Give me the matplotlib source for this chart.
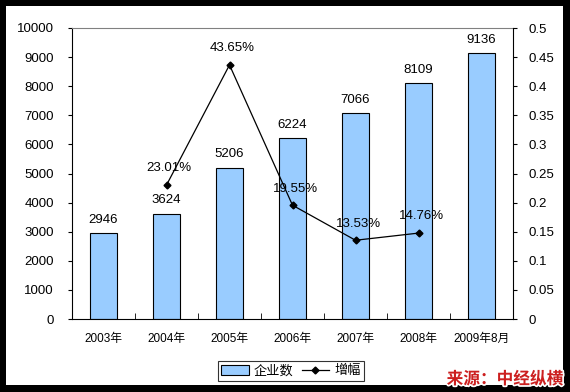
import matplotlib
matplotlib.use("Agg")
import matplotlib.pyplot as plt
import matplotlib.patheffects as pe
from matplotlib.lines import Line2D
from matplotlib.patches import Patch

categories = ["2003年", "2004年", "2005年", "2006年", "2007年", "2008年", "2009年8月"]
companies = [2946, 3624, 5206, 6224, 7066, 8109, 9136]
growth_cats = [1, 2, 3, 4, 5]
growth = [0.2301, 0.4365, 0.1955, 0.1353, 0.1476]
growth_labels = ["23.01%", "43.65%", "19.55%", "13.53%", "14.76%"]

fam = ["Liberation Sans", "Noto Sans CJK SC", "DejaVu Sans"]
plt.rcParams["font.family"] = fam

W, H = 570, 392
fig = plt.figure(figsize=(W / 100, H / 100), dpi=100)
fig.patch.set_facecolor("black")
# white inner panel
fig.add_artist(plt.Rectangle((6 / W, 7 / H), (563 - 6) / W, (385 - 6) / H,
                             transform=fig.transFigure, facecolor="white", edgecolor="none", zorder=0))

ax = fig.add_axes([72 / W, (H - 319) / H, (513 - 72) / W, (319 - 28) / H])
ax.set_facecolor("white")
x = list(range(len(categories)))
ax.bar(x, companies, width=0.42, color="#99CCFF", edgecolor="black", linewidth=0.8, zorder=2)
ax.set_xlim(-0.5, len(categories) - 0.5)
ax.set_ylim(0, 10000)
ax.set_yticks(range(0, 10001, 1000))
ax.tick_params(axis="y", direction="out", length=3, labelsize=9.5, pad=10)
ax.set_xticks(x)
ax.set_xticklabels(categories, fontsize=8.5)
ax.tick_params(axis="x", length=0, pad=10)
ax.set_xticks([i + 0.5 for i in x[:-1]], minor=True)
ax.tick_params(axis="x", which="minor", direction="in", length=4)
for s in ["left", "bottom"]:
    ax.spines[s].set_color("black")
ax.spines["top"].set_color("#808080")
ax.spines["right"].set_visible(False)
for xi, v in zip(x, companies):
    ax.text(xi, v + 250, str(v), ha="center", va="bottom", fontsize=9.5)

ax2 = ax.twinx()
ax2.set_ylim(0, 0.5)
ax2.set_yticks([0, 0.05, 0.1, 0.15, 0.2, 0.25, 0.3, 0.35, 0.4, 0.45, 0.5])
ax2.set_yticklabels(["0", "0.05", "0.1", "0.15", "0.2", "0.25", "0.3", "0.35", "0.4", "0.45", "0.5"])
ax2.tick_params(axis="y", direction="out", length=3, labelsize=9.5, pad=8)
ax2.spines["right"].set_color("black")
ax2.spines["top"].set_visible(False)
ax2.spines["left"].set_visible(False)
ax2.spines["bottom"].set_visible(False)
ax2.plot(growth_cats, growth, color="black", linewidth=0.9, marker="D", markersize=3.5, zorder=3)
for xi, v, lab in zip(growth_cats, growth, growth_labels):
    ax2.annotate(lab, (xi, v), xytext=(2, 12), textcoords="offset points",
                 ha="center", va="center", fontsize=9.5)

handles = [Patch(facecolor="#99CCFF", edgecolor="black", linewidth=0.8),
           Line2D([0], [0], color="black", linewidth=0.9, marker="D", markersize=3.5)]
leg = fig.legend(handles, ["企业数", "增幅"], loc="center", bbox_to_anchor=(291 / W, (H - 371) / H),
                 ncol=2, frameon=True, fancybox=False, edgecolor="black",
                 handlelength=2.1, handleheight=0.8, columnspacing=0.6, handletextpad=0.4,
                 borderpad=0.25, prop={"family": fam, "size": 9.5})
leg.get_frame().set_linewidth(0.8)

fig.text(563 / W, (H - 379) / H, "来源：中经纵横", ha="right", va="center", fontsize=12,
         color="#CC1F1F", fontweight="bold", style="italic", family=["Noto Sans CJK SC"],
         path_effects=[pe.withStroke(linewidth=2.5, foreground="white")])

fig.savefig("out.png", dpi=100, facecolor=fig.get_facecolor())
